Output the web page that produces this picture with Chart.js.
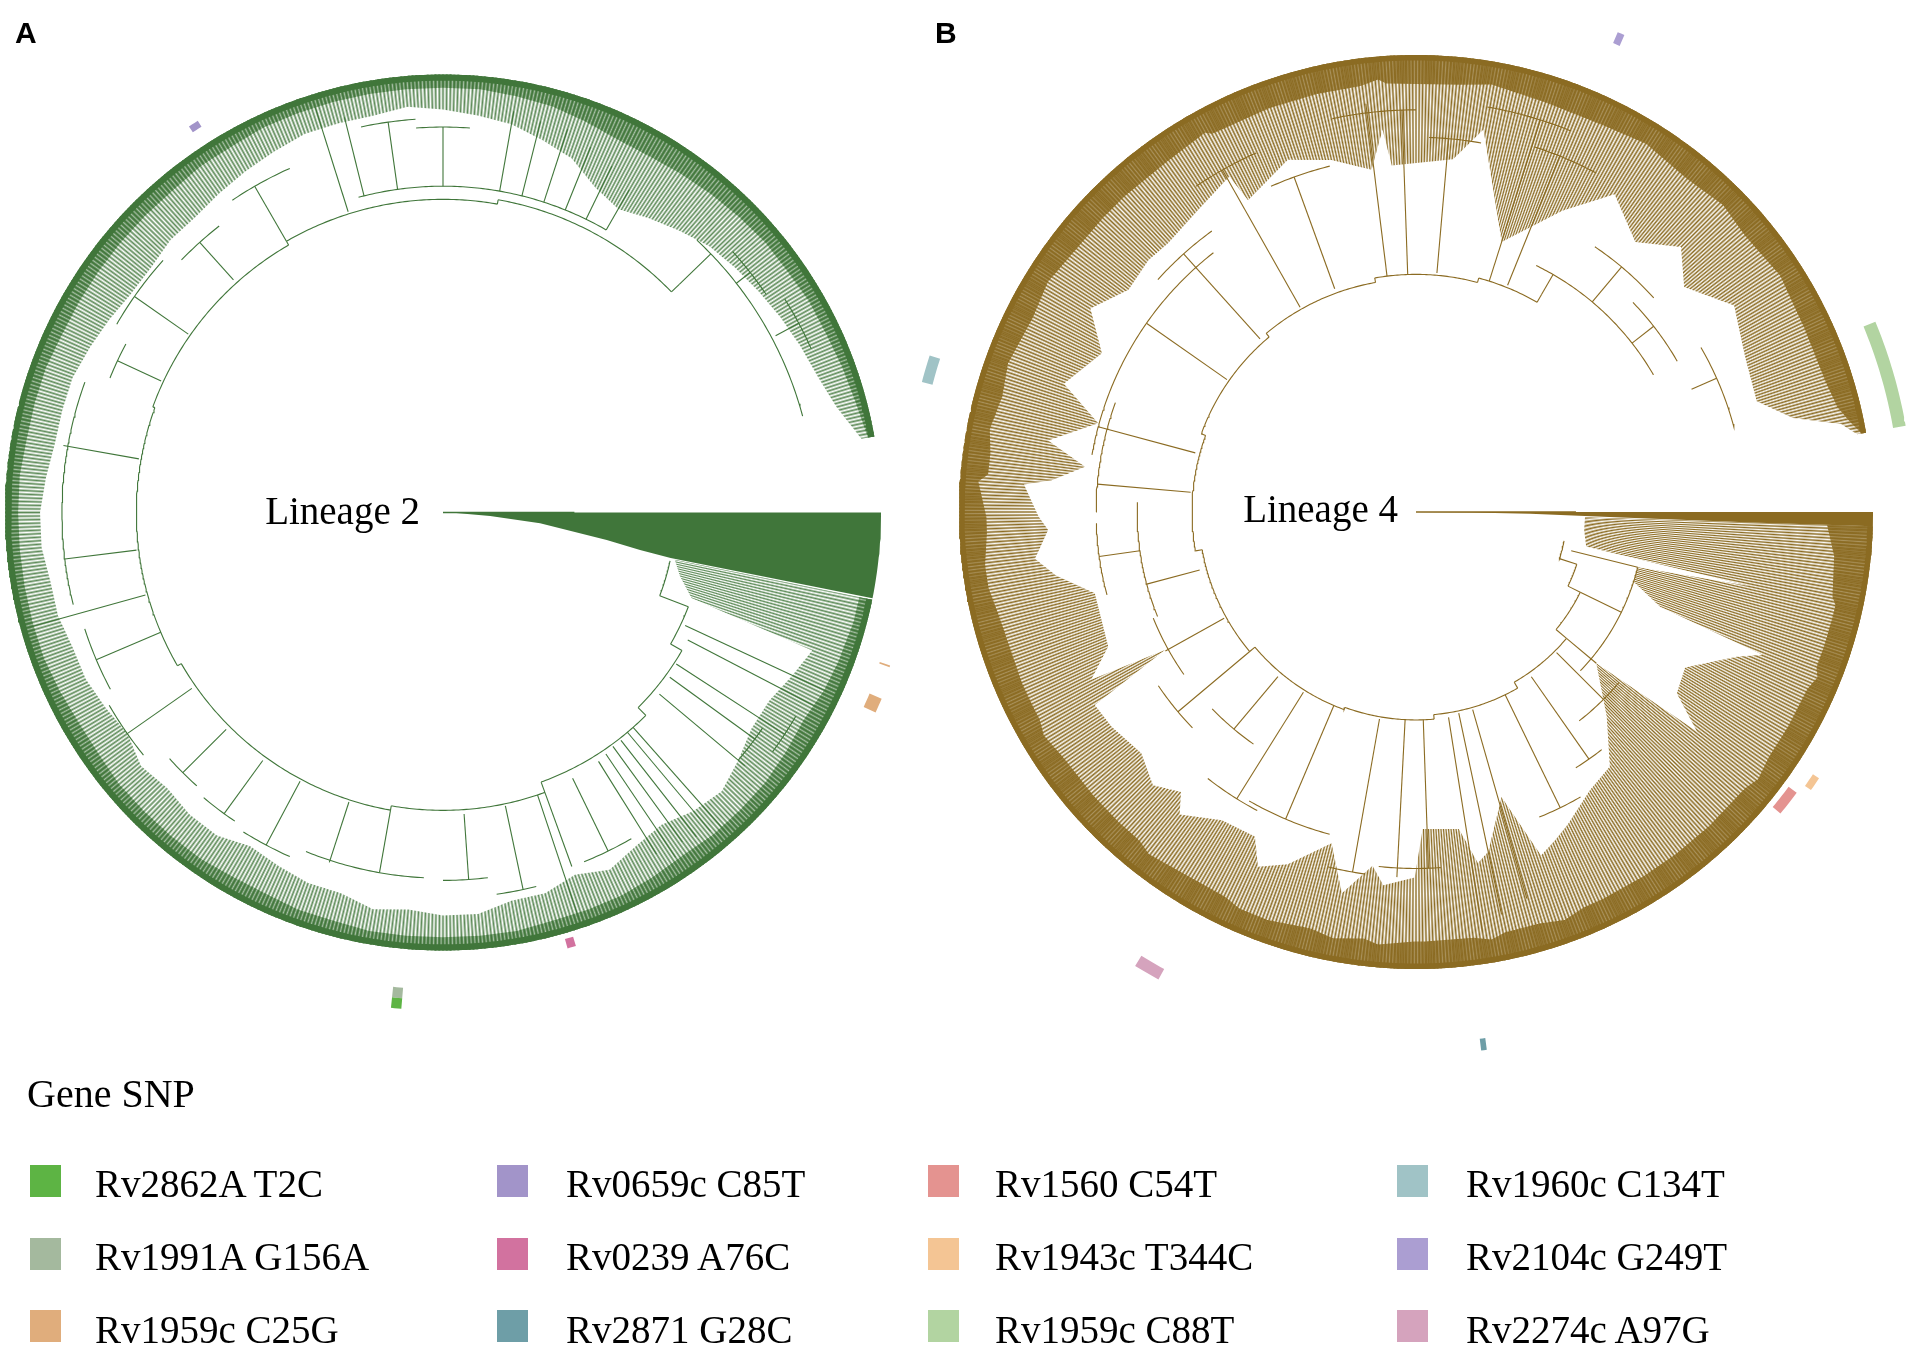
<!DOCTYPE html>
<html><head><meta charset="utf-8">
<script src="https://cdn.jsdelivr.net/npm/chart.js@4.4.1/dist/chart.umd.min.js"></script>
<style>
html,body{margin:0;padding:0;background:#fff;width:1908px;height:1346px;overflow:hidden;}
#wrap{position:absolute;left:0;top:0;width:1908px;height:1346px;}
.t{position:absolute;white-space:nowrap;color:#000;font-family:"Liberation Serif","Times New Roman",serif;}
.pl{position:absolute;white-space:nowrap;color:#000;font-family:"Liberation Sans",Arial,sans-serif;font-weight:bold;font-size:30px;line-height:30px;}
.sw{position:absolute;width:31px;height:32px;}
</style></head><body>
<div id="wrap"><canvas id="c" width="1908" height="1346"></canvas></div>
<div id="overlay"></div>
<script>
// ---------------- DATA ----------------
const snpLabels = ["Rv2862A T2C","Rv1991A G156A","Rv1959c C25G","Rv0659c C85T","Rv0239 A76C","Rv2871 G28C",
                   "Rv1560 C54T","Rv1943c T344C","Rv1959c C88T","Rv1960c C134T","Rv2104c G249T","Rv2274c A97G"];
const snpColors = ["#5db444","#a4b99e","#e0ad7c","#a294c9","#d2729f","#6e9ea7",
                   "#e49390","#f4c594","#b2d4a1","#a0c3c6","#ab9ed2","#d5a3bd"];
const legendTitle = "Gene SNP";
const panelLabels = ["A","B"];
const lineageLabels = ["Lineage 2","Lineage 4"];

// Tree A (Lineage 2) — angles in degrees clockwise from 3 o'clock, radius as fraction of tip radius
const backboneA = [[12,0.53],[21,0.60],[30,0.63],[45,0.655],[70,0.68],[100,0.69],[150,0.70],[200,0.705],[240,0.715],[280,0.725],[316,0.75]];
const radialsA = [[25,0.61,0.97],[27.5,0.63,0.96],[33,0.635,0.93],[36,0.64,0.88],[40,0.645,0.90],
  [48.5,0.655,0.98],[50,0.655,0.95],[52,0.66,0.94],[54,0.66,0.93],[56,0.665,0.95],[58,0.67,0.92],
  [64,0.675,0.86],[70,0.68,0.86],[71.5,0.68,0.98],[78,0.685,0.88],[86,0.69,0.84],
  [100,0.69,0.835],[108,0.695,0.84],[118,0.695,0.86],[126,0.70,0.85],[135,0.70,0.84],
  [145,0.70,0.88],[157,0.70,0.86],[164.5,0.705,0.98],[173,0.705,0.87],
  [190,0.705,0.88],[205,0.71,0.82],[215,0.71,0.86],[228,0.715,0.83],[240,0.715,0.86],
  [252.5,0.72,0.97],[256,0.745,0.93],[262,0.745,0.90],[270,0.745,0.88],[280,0.745,0.93],
  [284,0.745,0.92],[288,0.745,0.92],[292,0.745,0.90],[296,0.745,0.88],[300,0.745,0.85],
  [316,0.75,0.85],[322,0.85,0.89],[332,0.86,0.92]];
const arcsA = [[255,300,0.745],[60,68,0.86],[76,82,0.88],[83,90,0.84],[93,112,0.835],[114,122,0.86],[124,130,0.85],
  [132,138,0.84],[141,150,0.88],[152,162,0.86],[166,200,0.87],[202,208,0.82],[210,222,0.86],[224,232,0.83],
  [236,246,0.86],[258,266,0.90],[266,274,0.88],[313,345,0.85],[318,326,0.89],[328,336,0.92],[30,36,0.93],[34,40,0.88]];
const wedgeSpanA = [0, 11.3];
const wedgeA = [[11.3,0.53],[10.8,0.458],[9.5,0.379],[6.35,0.223],[4.3,0.108],[2,0.03],[0,0]];
// [angle, start of sparse tips, start of dense tips]
const fringeA = [[11.5,0.54,0.97],[15,0.56,0.97],[19,0.60,0.965],[20.5,0.90,0.965],[25,0.88,0.96],[30,0.86,0.95],[35,0.86,0.955],
  [40,0.88,0.96],[45,0.90,0.96],[50,0.89,0.96],[55,0.87,0.955],[60,0.88,0.96],[65,0.90,0.965],[70,0.88,0.965],[75,0.90,0.965],
  [80,0.90,0.97],[85,0.92,0.97],[90,0.92,0.97],[95,0.91,0.97],[100,0.92,0.97],[105,0.90,0.965],[110,0.90,0.965],[115,0.89,0.96],
  [120,0.88,0.96],[125,0.90,0.965],[130,0.90,0.965],[135,0.89,0.965],[140,0.90,0.965],[145,0.88,0.96],[150,0.89,0.96],
  [155,0.90,0.965],[160,0.90,0.97],[165,0.91,0.97],[170,0.91,0.97],[175,0.92,0.97],[180,0.92,0.97],[185,0.91,0.97],
  [190,0.90,0.965],[195,0.90,0.965],[200,0.90,0.965],[205,0.89,0.96],[210,0.88,0.96],[215,0.87,0.96],[220,0.87,0.96],
  [225,0.88,0.96],[230,0.88,0.96],[235,0.89,0.965],[240,0.90,0.965],[245,0.91,0.97],[250,0.92,0.97],[255,0.92,0.97],
  [260,0.92,0.97],[265,0.93,0.97],[270,0.92,0.97],[275,0.91,0.97],[280,0.90,0.965],[285,0.88,0.96],[290,0.86,0.95],
  [295,0.82,0.94],[300,0.80,0.94],[305,0.82,0.945],[310,0.84,0.95],[315,0.86,0.955],[320,0.87,0.96],[325,0.88,0.96],
  [330,0.89,0.965],[335,0.90,0.965],[340,0.91,0.97],[345,0.93,0.975],[350,0.97,0.985]];
// [snp index, centre angle, inner r, outer r, angular width]
const markersA = [[3,237.3,1.039,1.055,1.3],[4,73.5,1.013,1.035,1.1],[1,95.4,1.089,1.113,1.2],[0,95.4,1.113,1.137,1.2],
  [2,23.9,1.058,1.088,1.8],[2,19.0,1.054,1.079,0.2]];

// Tree B (Lineage 4)
const backboneB = [[11,0.33],[18,0.37],[26,0.40],[40,0.43],[60,0.445],[85,0.455],[110,0.46],[140,0.475],[170,0.49],[200,0.50],[230,0.51],[260,0.52],[285,0.53],[300,0.55]];
const radialsB = [[14,0.35,0.50],[26,0.40,0.50],[40,0.43,0.515],[45,0.435,0.58],[55,0.44,0.66],[64,0.445,0.72],[74,0.45,0.88],[78,0.45,0.90],
  [81,0.455,0.93],[88,0.455,0.78],[93,0.455,0.80],[100,0.46,0.80],[113,0.46,0.73],[122,0.465,0.74],[130,0.47,0.62],
  [140,0.475,0.68],[151,0.48,0.627],[165,0.49,0.61],[172,0.61,0.70],[185,0.495,0.70],[195,0.50,0.72],[215,0.505,0.72],
  [228,0.51,0.76],[240.5,0.515,0.86],[250,0.52,0.78],[263,0.52,0.90],[268,0.52,0.88],[275,0.525,0.82],[287.6,0.53,0.90],
  [292,0.535,0.84],[300,0.55,0.60],[310,0.60,0.70],[322,0.60,0.66],[336,0.66,0.72]];
const arcsB = [[14,44,0.50],[40,52,0.58],[52,58,0.66],[60,68,0.72],[86,96,0.78],[98,104,0.80],[105,120,0.73],[118,128,0.74],
  [125,136,0.62],[136,146,0.68],[145,158,0.62],[158,182,0.61],[165,178,0.70],[180,200,0.70],[190,205,0.72],[205,232,0.72],
  [222,234,0.76],[236,246,0.86],[246,256,0.78],[258,270,0.88],[272,280,0.82],[280,292,0.90],[288,298,0.84],[296,330,0.60],
  [304,318,0.70],[316,330,0.66],[330,345,0.72]];
const wedgeSpanB = [0, 1.8];
const wedgeB = [[1.8,0.75],[1.5,0.45],[0.9,0.25],[0.4,0.12],[0,0]];
const fringeB = [[1.8,0.37,0.90],[6,0.37,0.92],[11.5,0.38,0.93],[12.5,0.75,0.94],[14,0.50,0.94],[17.8,0.50,0.94],[21.2,0.573,0.94],
  [22.4,0.82,0.95],[24.3,0.77,0.94],[30,0.68,0.94],[34.8,0.695,0.94],[38,0.78,0.95],[40,0.515,0.94],[47,0.612,0.94],
  [52.7,0.70,0.94],[58,0.718,0.94],[64.1,0.76,0.94],[67,0.78,0.94],[70,0.80,0.95],[73.3,0.651,0.94],[78,0.76,0.94],
  [80,0.78,0.95],[82.3,0.70,0.94],[88.8,0.694,0.94],[90.2,0.80,0.94],[95,0.82,0.95],[97,0.78,0.94],[101,0.85,0.95],
  [104.3,0.748,0.94],[110,0.82,0.95],[114,0.85,0.95],[116.4,0.793,0.94],[122.2,0.797,0.94],[128,0.84,0.95],[130,0.80,0.94],
  [133.9,0.83,0.94],[138.7,0.80,0.94],[144.8,0.815,0.94],[149,0.82,0.95],[151.2,0.627,0.94],[152.7,0.80,0.94],
  [156.4,0.735,0.94],[165.8,0.725,0.94],[170,0.80,0.95],[173,0.84,0.95],[177.2,0.806,0.94],[179.3,0.826,0.94],
  [184,0.86,0.96],[185,0.80,0.94],[187.8,0.731,0.94],[191,0.82,0.95],[195.6,0.722,0.94],[200,0.82,0.95],[206.8,0.77,0.94],
  [212,0.84,0.95],[217.7,0.795,0.94],[223.3,0.804,0.94],[227.3,0.80,0.94],[234.2,0.815,0.94],[240.9,0.84,0.95],
  [241.7,0.775,0.94],[250,0.82,0.94],[256.5,0.792,0.94],[262.6,0.755,0.94],[265,0.84,0.95],[266,0.76,0.94],[276,0.776,0.94],
  [280,0.85,0.95],[287.6,0.62,0.94],[295.9,0.733,0.94],[302,0.82,0.95],[309.1,0.761,0.94],[315,0.82,0.95],[320,0.766,0.94],
  [327,0.83,0.95],[334.8,0.796,0.94],[342,0.784,0.94],[346,0.85,0.95],[348.3,0.95,0.97],[350,0.98,0.99]];
const markersB = [[10,293.2,1.113,1.139,0.8],[8,343.75,1.06,1.088,12.5],[6,38.0,1.013,1.035,3.2],[7,34.3,1.041,1.057,1.7],
  [11,120.3,1.142,1.168,2.9],[5,82.8,1.161,1.187,0.6],[9,196.3,1.094,1.118,3.1]];

// ---------------- LAYOUT / STYLE ----------------
const TA = {cx:443, cy:512.5, R:438, rgb:[64,118,58], lw:1.1, nLight:720, lightA:0.85, lightGap:0, nDense:720, denseGap:0.45, solid:0.986,
  backbone:backboneA, radials:radialsA, arcs:arcsA, wedge:wedgeA, wedgeSpan:wedgeSpanA, fringe:fringeA, markers:markersA, rootLen:0.3};
const TB = {cx:1416, cy:512, R:457, rgb:[139,107,34], lw:1.1, nLight:800, lightA:1, lightGap:0.04, nDense:900, denseGap:0.7, solid:0.988,
  backbone:backboneB, radials:radialsB, arcs:arcsB, wedge:wedgeB, wedgeSpan:wedgeSpanB, fringe:fringeB, markers:markersB, rootLen:0.35};

function pt(T, th, r){ const a = th*Math.PI/180; return {x:T.cx + r*T.R*Math.cos(a), y:T.cy + r*T.R*Math.sin(a)}; }
function arcPts(T, a0, a1, r){
  const n = Math.max(2, Math.ceil(Math.abs(a1-a0)/0.5)+1), out = [];
  for (let i=0;i<n;i++) out.push(pt(T, a0+(a1-a0)*i/(n-1), r));
  return out;
}
function rgba(T, a){ return `rgba(${T.rgb[0]},${T.rgb[1]},${T.rgb[2]},${a})`; }
function lineDs(points, color, width){
  return {data:points, borderColor:color, borderWidth:width, pointRadius:0, fill:false, tension:0, spanGaps:false};
}
function polyDs(points, fill){
  return {data:points, borderColor:'rgba(0,0,0,0)', borderWidth:0, backgroundColor:fill, fill:'shape', pointRadius:0, tension:0};
}
const gradCache = {};
function stripes(key, T, n, c1, c2){
  return function(ctx){
    const ch = ctx.chart;
    let cx = T.cx, cy = T.cy;
    if (ch && ch.scales && ch.scales.x && ch.scales.y) {
      const px = ch.scales.x.getPixelForValue(T.cx), py = ch.scales.y.getPixelForValue(T.cy);
      if (isFinite(px) && isFinite(py)) { cx = px; cy = py; }
    }
    const k = key + ':' + Math.round(cx) + ':' + Math.round(cy);
    if (gradCache[k]) return gradCache[k];
    const g = ch.ctx.createConicGradient(0, cx, cy);
    for (let i=0;i<n;i++){ g.addColorStop(i/n, c1); g.addColorStop((i+0.5)/n, c2); }
    g.addColorStop(1, c1);
    gradCache[k] = g;
    return g;
  };
}
function band(T, samples, idx, rOuter){
  const a0 = samples[0][0], a1 = samples[samples.length-1][0];
  const pts = arcPts(T, a0, a1, rOuter);
  for (let i=samples.length-1;i>=0;i--) pts.push(pt(T, samples[i][0], samples[i][idx]));
  pts.push(pts[0]);
  return pts;
}
function buildTree(name, T, list){
  const col = rgba(T, 1);
  for (let i=0;i<T.backbone.length-1;i++){
    const [a, r] = T.backbone[i], [a2, r2] = T.backbone[i+1];
    list.push(lineDs(arcPts(T, a, a2, r), col, T.lw));
    list.push(lineDs([pt(T, a2, r), pt(T, a2, r2)], col, T.lw));
  }
  T.arcs.forEach(([a0,a1,r]) => list.push(lineDs(arcPts(T, a0, a1, r), col, T.lw)));
  T.radials.forEach(([a,r0,r1]) => list.push(lineDs([pt(T,a,r0), pt(T,a,r1)], col, T.lw)));
  list.push(polyDs(band(T, T.fringe, 1, 1.0), stripes(name+'L', T, T.nLight, rgba(T, T.lightA), rgba(T, T.lightGap))));
  list.push(polyDs(band(T, T.fringe, 2, 1.0), stripes(name+'D', T, T.nDense, rgba(T, 1), rgba(T, T.denseGap))));
  const a0 = T.fringe[0][0], a1 = T.fringe[T.fringe.length-1][0];
  const ring = arcPts(T, a0, a1, 1.0).concat(arcPts(T, a1, a0, T.solid));
  ring.push(ring[0]);
  list.push(polyDs(ring, col));
  const w = arcPts(T, T.wedgeSpan[0], T.wedgeSpan[1], 1.0);
  T.wedge.forEach(([a,r]) => w.push(pt(T, a, r)));
  w.push(w[0]);
  list.push(polyDs(w, col));
  list.push(lineDs([pt(T,0,0), pt(T,0,T.rootLen)], col, 1.5));
  T.markers.forEach(([k, a, r0, r1, wd]) => {
    const p = arcPts(T, a-wd/2, a+wd/2, r0).concat(arcPts(T, a+wd/2, a-wd/2, r1));
    p.push(p[0]);
    list.push(polyDs(p, snpColors[k]));
  });
}

// ---------------- TEXT OVERLAY ----------------
const ov = document.getElementById('overlay');
function addText(cls, txt, style){ const d = document.createElement('div'); d.className = cls; d.textContent = txt; Object.assign(d.style, style); ov.appendChild(d); }
const panelX = [15, 935];
panelLabels.forEach((s,i) => addText('pl', s, {left: panelX[i]+'px', top:'18px'}));
const lineageRight = [420, 1398], lineageTop = [491, 489];
lineageLabels.forEach((s,i) => addText('t', s, {right:(1908-lineageRight[i])+'px', top:lineageTop[i]+'px', fontSize:'39px', lineHeight:'39px'}));
addText('t', legendTitle, {left:'27px', top:'1074px', fontSize:'40px', lineHeight:'40px'});
const swX = [30, 497, 928, 1397], txX = [95, 566, 995, 1466], rowTop = [1165, 1238, 1310], rowBase = [1197, 1270, 1343];
snpLabels.forEach((s,i) => {
  const c = Math.floor(i/3), r = i%3;
  const sw = document.createElement('div'); sw.className = 'sw';
  Object.assign(sw.style, {left:swX[c]+'px', top:rowTop[r]+'px', background:snpColors[i]});
  ov.appendChild(sw);
  addText('t', s, {left:txX[c]+'px', top:(rowBase[r]-32.7)+'px', fontSize:'39px', lineHeight:'39px'});
});

// ---------------- CHART ----------------
const list = [];
buildTree('A', TA, list);
buildTree('B', TB, list);
const datasets = list.reverse(); // index 0 is drawn last (on top)

new Chart(document.getElementById('c'), {
  type: 'line',
  data: { datasets },
  options: {
    responsive: false, animation: false, events: [],
    layout: { padding: 0 },
    plugins: { legend: {display:false}, tooltip: {enabled:false}, title:{display:false} },
    scales: {
      x: { type:'linear', min:0, max:1908, display:false },
      y: { type:'linear', min:0, max:1346, reverse:true, display:false }
    }
  }
});
</script></body></html>
